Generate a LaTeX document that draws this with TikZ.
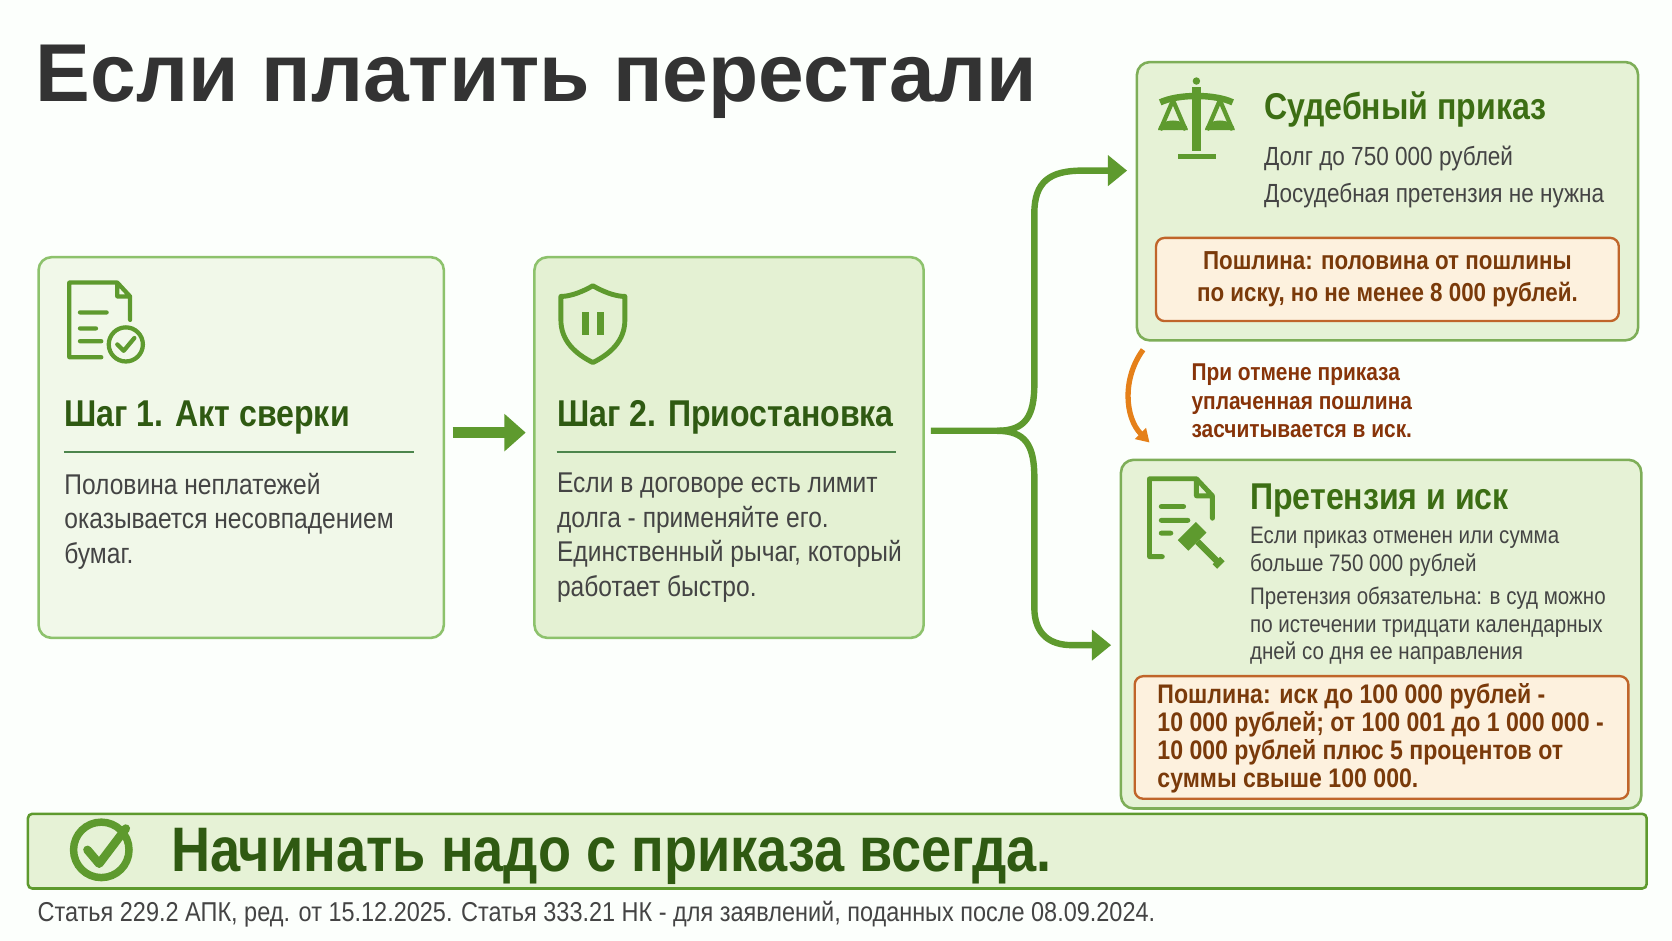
\documentclass[tikz,border=0pt]{standalone}
\usepackage{fontspec}
\setmainfont{Liberation Sans}[FakeStretch=0.86]
\newfontfamily\titlefont{Liberation Sans}
\usetikzlibrary{arrows.meta,calc}
\definecolor{gr}{HTML}{5E9A2E}
\definecolor{dgr}{HTML}{2F5A12}
\definecolor{tgr}{HTML}{3C6E14}
\definecolor{bord}{HTML}{8DC26C}
\definecolor{br}{HTML}{7A3A0A}
\definecolor{obord}{HTML}{C0652A}
\definecolor{txt}{HTML}{444444}
\definecolor{f1}{HTML}{F1F8E9}
\definecolor{f2}{HTML}{E4F1D3}
\definecolor{f3}{HTML}{E6F2D6}
\definecolor{of}{HTML}{FDF1DE}
\begin{document}
\begin{tikzpicture}[x=0.5pt,y=-0.5pt,
  box/.style={draw=bord,line width=1.2pt,rounded corners=6pt},
  obox/.style={draw=obord,line width=1.1pt,rounded corners=4pt,fill=of},
  ico/.style={draw=gr,line width=2pt,line cap=round,line join=round},
  txtn/.style={anchor=west,inner sep=0pt,text=txt,font=\fontsize{13.4}{16.3}\selectfont},
  head/.style={anchor=west,inner sep=0pt,text=dgr,font=\bfseries\fontsize{17.5}{20}\selectfont},
  small/.style={anchor=west,inner sep=0pt,text=txt,font=\fontsize{11}{13}\selectfont},
  btxt/.style={inner sep=0pt,text=br,font=\bfseries\fontsize{12.2}{15}\selectfont,align=left},
  arr/.style={draw=gr,line width=3pt}]
\fill[white!97!green!40!white] (0,0) rectangle (1568,882);
\useasboundingbox (0,0) rectangle (1568,882);
\node[anchor=base west,inner sep=0pt,text=black!80,font=\titlefont\bfseries\fontsize{38.5}{44}\selectfont] (title) at (33,95) {Если платить перестали};
% box1
\node[box,fill=f1,minimum width=190pt,minimum height=178.5pt,anchor=north west] (b1) at (35,240) {};
\draw[ico] (95,265) -- (65,265) -- (65,335) -- (95,335) (95,265) -- (110,265) -- (122,278) -- (122,300) (110,265) -- (110,278) -- (122,278)
  (75,293) -- (100,293) (75,308) -- (90,308) (75,320) -- (95,320);
\draw[ico] (118,323) circle (16) (110,323) -- (116,329) -- (126,317);
\node[head,anchor=base west] (h1) at (60,400) {Шаг 1. Акт сверки};
\draw[black!45!green!40!gray,line width=0.8pt] (60,424) -- (388,424);
\node[txtn,anchor=north west,align=left] (t1) at (60,443) {Половина неплатежей\\оказывается несовпадением\\бумаг.};
% box2
\node[box,fill=f2,minimum width=182.5pt,minimum height=178.5pt,anchor=north west] (b2) at (500,240) {};
\draw[ico,line width=2.3pt] (556,268) .. controls (570,276) and (580,278) .. (586,278) -- (586,300) .. controls (586,320) and (572,332) .. (556,340) .. controls (540,332) and (526,320) .. (526,300) -- (526,278) .. controls (532,278) and (542,276) .. (556,268) -- cycle;
\draw[gr,line width=3.2pt] (549,293) -- (549,314) (563,293) -- (563,314);
\node[head,anchor=base west] (h2) at (522,400) {Шаг 2. Приостановка};
\draw[black!45!green!40!gray,line width=0.8pt] (522,424) -- (840,424);
\node[txtn,anchor=north west,align=left] (t2) at (522,443) {Если в договоре есть лимит\\долга - применяйте его.\\Единственный рычаг, который\\работает быстро.};
% arrow b1->b2
\draw[arr,line width=5pt,-{Triangle[length=10pt,width=17pt]}] ($(b1.east)+(7,-14)$) -- ($(b2.west)+(-7,-14)$);
% branch
\coordinate (bs) at (873,404);
\coordinate (up) at (1057,160);
\coordinate (dn) at (1042,605);
\draw[arr,-{Triangle[length=9pt,width=14pt]}] (bs) -- (935,404) .. controls (962,404) and (970,390) .. (970,360) -- (970,200) .. controls (970,170) and (985,160) .. (1015,160) -- (up);
\draw[arr,-{Triangle[length=9pt,width=14pt]}] (935,404) .. controls (962,404) and (970,418) .. (970,448) -- (970,570) .. controls (970,595) and (985,605) .. (1005,605) -- (dn);
% box3
\node[box,draw=gr!80,fill=f3,minimum width=235pt,minimum height=130.5pt,anchor=north west] (b3) at (1065,57) {};
\begin{scope}[gr]
\fill (1122,76) circle (3.5);
\draw[line width=3pt] (1088,96) .. controls (1105,88) and (1139,88) .. (1156,96);
\draw[line width=4pt] (1122,82) -- (1122,142);
\fill (1105,144) rectangle (1140,149);
\draw[line width=2pt] (1100,94) -- (1088,122) (1100,94) -- (1112,122) (1144,94) -- (1132,122) (1144,94) -- (1156,122);
\fill (1086,122) arc (180:360:14 and 9) -- cycle;
\fill (1130,122) arc (180:360:14 and 9) -- cycle;
\end{scope}
\node[head,text=tgr,anchor=base west] (h3) at (1185,112) {Судебный приказ};
\node[small,anchor=base west,font=\fontsize{12.3}{13}\selectfont] (l31) at (1185,155) {Долг до 750 000 рублей};
\node[small,anchor=base west,font=\fontsize{12.3}{13}\selectfont] (l32) at (1185,190) {Досудебная претензия не нужна};
\node[obox,minimum width=217pt,minimum height=39pt,anchor=north west] (o3) at (1083,222) {};
\node[btxt,align=center] (ot3) at (o3.center) {Пошлина: половина от пошлины\\по иску, но не менее 8 000 рублей.};
% orange curved arrow
\coordinate (ca) at (1072,328);
\coordinate (cb) at (1078,415);
\draw[draw=orange!60!brown,line width=2.5pt,-{Triangle[length=6pt,width=7pt]}] (ca) .. controls (1052,355) and (1055,392) .. (cb);
\node[btxt,anchor=north west,font=\bfseries\fontsize{11.4}{13.3}\selectfont,text=br!90!red] (note) at (1117,341) {При отмене приказа\\уплаченная пошлина\\засчитывается в иск.};
% box4
\node[box,draw=gr!80,fill=f3,minimum width=244pt,minimum height=163.5pt,anchor=north west] (b4) at (1050,430) {};
\draw[ico,line width=2.3pt] (1105,449) -- (1078,449) -- (1078,522) -- (1090,522) (1105,449) -- (1122,449) -- (1137,465) -- (1137,486) (1122,449) -- (1122,465) -- (1137,465)
  (1089,475) -- (1110,475) (1089,488) -- (1114,488) (1089,500) -- (1098,500);
\begin{scope}[shift={(1118,503)},rotate=45]
\fill[gr] (-12,-7) rectangle (12,7);
\fill[gr] (-3,7) rectangle (3,34);
\fill[gr] (-5,32) rectangle (5,38);
\end{scope}
\node[head,text=tgr,anchor=base west] (h4) at (1172,478) {Претензия и иск};
\node[small,anchor=north west,align=left,font=\fontsize{11.2}{13}\selectfont] (l41) at (1172,494) {Если приказ отменен или сумма\\больше 750 000 рублей};
\node[small,anchor=north west,align=left,font=\fontsize{11.2}{13}\selectfont] (l42) at (1172,550) {Претензия обязательна: в суд можно\\по истечении тридцати календарных\\дней со дня ее направления};
\node[obox,minimum width=231.5pt,minimum height=57.5pt,anchor=north west] (o4) at (1063,633) {};
\node[btxt,anchor=north west,font=\bfseries\fontsize{12.6}{13.1}\selectfont] (ot4) at (1085,641) {Пошлина: иск до 100 000 рублей -\\10 000 рублей; от 100 001 до 1 000 000 -\\10 000 рублей плюс 5 процентов от\\суммы свыше 100 000.};
% bottom bar
\node[box,draw=gr,fill=f3,rounded corners=2pt,minimum width=759pt,minimum height=35pt,anchor=north west] (bar) at (25,762) {};
\draw[gr,line width=3.5pt] (95,797) circle (26);
\draw[gr,line width=4pt,line cap=round,line join=round] (82,797) -- (93,810) -- (118,777);
\node[anchor=base west,inner sep=0pt,text=dgr,font=\bfseries\fontsize{29.5}{30}\selectfont] (bt) at (160,817) {Начинать надо с приказа всегда.};
\node[anchor=base west,inner sep=0pt,text=txt,font=\fontsize{12.8}{13}\selectfont] (foot) at (35,864) {Статья 229.2 АПК, ред. от 15.12.2025. Статья 333.21 НК - для заявлений, поданных после 08.09.2024.};
\end{tikzpicture}
\end{document}
